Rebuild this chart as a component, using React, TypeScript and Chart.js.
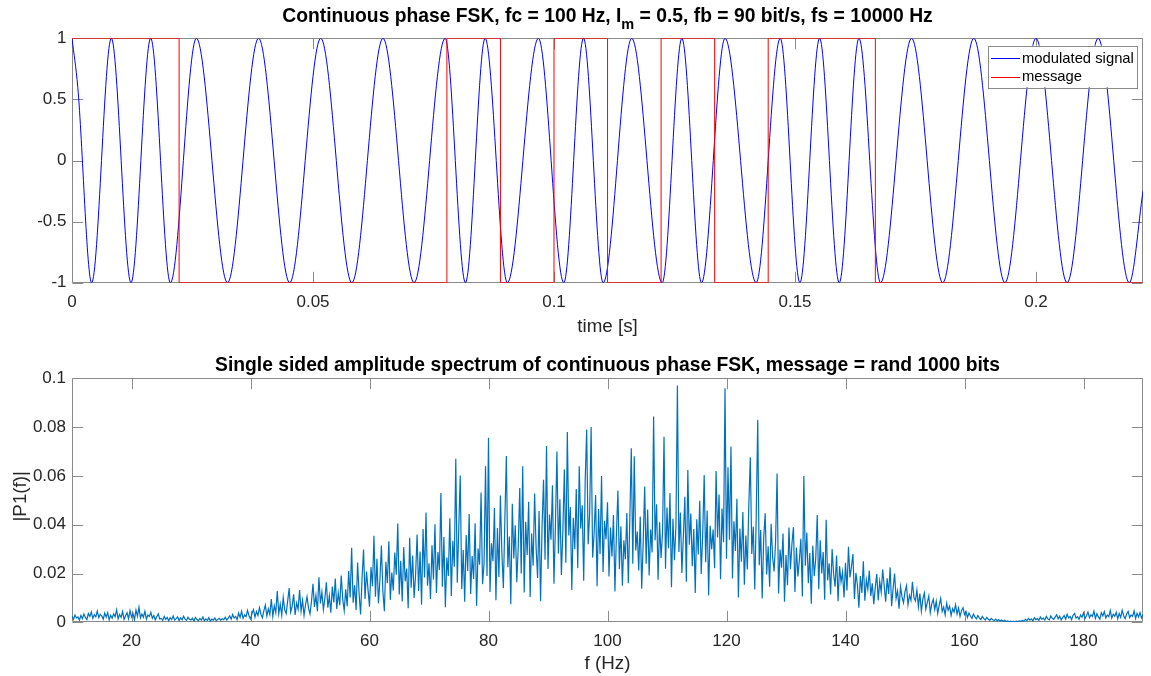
import React, { useEffect, useRef } from 'react';
import { Chart, registerables } from 'chart.js';

Chart.register(...registerables);

// ---------------- Top plot: CPFSK time signal ----------------
const TIME_MAX = 0.2222;
const TIME_TICKS = [0, 0.05, 0.1, 0.15, 0.2];
const TIME_TICK_LABELS = ['0', '0.05', '0.1', '0.15', '0.2'];
const AMP_TICKS = [-1, -0.5, 0, 0.5, 1];
const AMP_TICK_LABELS = ['-1', '-0.5', '0', '0.5', '1'];

// extrema (peaks / troughs) of the modulated signal
const SIGNAL_T = [
  0, 0.0012, 0.00408, 0.00816, 0.01224, 0.01633, 0.02041, 0.02581, 0.03226, 0.03871,
  0.04516, 0.05161, 0.05806, 0.06452, 0.07097, 0.07742, 0.08163, 0.08571, 0.09032, 0.09677,
  0.10204, 0.10612, 0.1102, 0.11613, 0.12245, 0.12653, 0.13061, 0.13548, 0.14194, 0.14694,
  0.15102, 0.1551, 0.15918, 0.16327, 0.16774, 0.17419, 0.18065, 0.1871, 0.19355, 0.2,
  0.20645, 0.2129, 0.21935, 0.2222,
];
const SIGNAL_V = [
  1, 0.6,
  -1, 1, -1, 1, -1, 1, -1, 1, -1, 1,
  -1, 1, -1, 1, -1, 1, -1, 1, -1, 1,
  -1, 1, -1, 1, -1, 1, -1, 1, -1, 1,
  -1, 1, -1, 1, -1, 1, -1, 1, -1, 1,
  -1, -0.25,
];

// message bits (+1 / -1) at each bit start, plus the end of the record
const MESSAGE_T = [
  0, 0.01111, 0.02222, 0.03333, 0.04444, 0.05556, 0.06667, 0.07778, 0.08889, 0.1,
  0.11111, 0.12222, 0.13333, 0.14444, 0.15556, 0.16667, 0.17778, 0.18889, 0.2, 0.21111, 0.2222,
];
const MESSAGE_V = [1, 1, -1, -1, -1, -1, -1, 1, -1, 1, -1, 1, -1, 1, 1, -1, -1, -1, -1, -1, -1];

// ---------------- Bottom plot: amplitude spectrum ----------------
const FREQ_MIN = 10;
const FREQ_MAX = 190;
const FREQ_TICKS = [20, 40, 60, 80, 100, 120, 140, 160, 180];
const FREQ_TICK_LABELS = ['20', '40', '60', '80', '100', '120', '140', '160', '180'];
const P1_TICKS = [0, 0.02, 0.04, 0.06, 0.08, 0.1];
const P1_TICK_LABELS = ['0', '0.02', '0.04', '0.06', '0.08', '0.1'];
const SPEC_F_START = 10;
const SPEC_F_STEP = 0.25;
const SPECTRUM = [
  0.0025,0.0012,0.0030,0.0018,0.0022,0.0009,0.0028,0.0015,0.0034,0.0020,0.0011,0.0036,0.0024,0.0042,0.0016,0.0031,0.0022,0.0046,0.0019,0.0033,
  0.0026,0.0013,0.0038,0.0021,0.0040,0.0010,0.0029,0.0017,0.0035,0.0023,0.0051,0.0014,0.0032,0.0020,0.0044,0.0012,0.0027,0.0039,0.0015,0.0048,
  0.0022,0.0036,0.0011,0.0050,0.0025,0.0062,0.0018,0.0034,0.0021,0.0045,0.0013,0.0030,0.0024,0.0041,0.0016,0.0028,0.0010,0.0023,0.0035,0.0014,
  0.0016,0.0008,0.0024,0.0012,0.0020,0.0006,0.0019,0.0011,0.0026,0.0009,0.0015,0.0022,0.0007,0.0018,0.0010,0.0025,0.0013,0.0008,0.0021,0.0012,
  0.0009,0.0017,0.0005,0.0020,0.0011,0.0007,0.0016,0.0009,0.0022,0.0006,0.0014,0.0008,0.0019,0.0005,0.0013,0.0009,0.0018,0.0006,0.0012,0.0016,
  0.0008,0.0015,0.0010,0.0021,0.0009,0.0017,0.0026,0.0013,0.0032,0.0018,0.0024,0.0011,0.0038,0.0020,0.0045,0.0016,0.0030,0.0023,0.0049,0.0027,
  0.0014,0.0036,0.0052,0.0021,0.0044,0.0028,0.0060,0.0033,0.0019,0.0048,0.0071,0.0026,0.0055,0.0032,0.0095,0.0024,0.0068,0.0040,0.0128,0.0035,
  0.0074,0.0029,0.0102,0.0051,0.0036,0.0088,0.0140,0.0042,0.0065,0.0115,0.0030,0.0079,0.0054,0.0132,0.0046,0.0090,0.0028,0.0072,0.0105,0.0058,
  0.0034,0.0086,0.0158,0.0063,0.0110,0.0045,0.0185,0.0077,0.0124,0.0052,0.0098,0.0164,0.0060,0.0108,0.0039,0.0146,0.0081,0.0179,0.0055,0.0120,
  0.0070,0.0192,0.0094,0.0048,0.0135,0.0066,0.0210,0.0102,0.0305,0.0080,0.0152,0.0050,0.0245,0.0118,0.0032,0.0180,0.0298,0.0096,0.0208,0.0134,
  0.0064,0.0226,0.0148,0.0355,0.0105,0.0260,0.0078,0.0172,0.0315,0.0126,0.0045,0.0248,0.0160,0.0332,0.0092,0.0204,0.0130,0.0286,0.0195,0.0405,
  0.0114,0.0252,0.0085,0.0308,0.0168,0.0220,0.0058,0.0346,0.0142,0.0274,0.0100,0.0196,0.0360,0.0128,0.0290,0.0072,0.0382,0.0184,0.0450,0.0150,
  0.0242,0.0095,0.0316,0.0175,0.0402,0.0120,0.0288,0.0214,0.0530,0.0146,0.0350,0.0062,0.0265,0.0190,0.0426,0.0108,0.0334,0.0228,0.0670,0.0162,
  0.0380,0.0602,0.0136,0.0296,0.0084,0.0358,0.0210,0.0444,0.0116,0.0272,0.0178,0.0406,0.0068,0.0302,0.0236,0.0532,0.0156,0.0240,0.0640,0.0190,
  0.0756,0.0124,0.0324,0.0250,0.0468,0.0090,0.0386,0.0186,0.0520,0.0284,0.0140,0.0420,0.0682,0.0226,0.0352,0.0074,0.0486,0.0262,0.0398,0.0164,
  0.0310,0.0550,0.0200,0.0640,0.0122,0.0412,0.0276,0.0494,0.0104,0.0364,0.0232,0.0528,0.0306,0.0182,0.0456,0.0086,0.0390,0.0584,0.0256,0.0722,
  0.0218,0.0442,0.0338,0.0562,0.0158,0.0400,0.0700,0.0282,0.0504,0.0194,0.0374,0.0626,0.0244,0.0780,0.0356,0.0472,0.0132,0.0428,0.0300,0.0546,
  0.0222,0.0640,0.0384,0.0480,0.0170,0.0580,0.0790,0.0320,0.0448,0.0800,0.0266,0.0362,0.0522,0.0148,0.0464,0.0280,0.0600,0.0206,0.0416,0.0340,
  0.0492,0.0188,0.0388,0.0270,0.0440,0.0126,0.0362,0.0540,0.0218,0.0394,0.0150,0.0336,0.0258,0.0448,0.0160,0.0420,0.0713,0.0240,0.0680,0.0294,
  0.0372,0.0212,0.0434,0.0138,0.0330,0.0556,0.0240,0.0462,0.0192,0.0380,0.0286,0.0843,0.0336,0.0484,0.0174,0.0410,0.0264,0.0368,0.0760,0.0220,
  0.0470,0.0304,0.0530,0.0144,0.0424,0.0254,0.0394,0.0970,0.0288,0.0450,0.0202,0.0354,0.0514,0.0166,0.0624,0.0318,0.0446,0.0230,0.0382,0.0120,
  0.0422,0.0278,0.0498,0.0198,0.0360,0.0604,0.0246,0.0458,0.0110,0.0396,0.0300,0.0380,0.0222,0.0620,0.0348,0.0524,0.0176,0.0466,0.0328,0.0959,
  0.0260,0.0635,0.0338,0.0720,0.0180,0.0414,0.0292,0.0506,0.0102,0.0384,0.0248,0.0452,0.0154,0.0356,0.0216,0.0480,0.0676,0.0280,0.0392,0.0134,
  0.0440,0.0830,0.0234,0.0378,0.0098,0.0344,0.0447,0.0196,0.0312,0.0146,0.0404,0.0268,0.0208,0.0330,0.0610,0.0118,0.0298,0.0224,0.0364,0.0084,
  0.0276,0.0152,0.0388,0.0218,0.0322,0.0390,0.0124,0.0306,0.0188,0.0256,0.0342,0.0106,0.0600,0.0232,0.0368,0.0160,0.0284,0.0076,0.0314,0.0190,
  0.0262,0.0440,0.0136,0.0336,0.0200,0.0288,0.0092,0.0420,0.0172,0.0242,0.0114,0.0300,0.0198,0.0146,0.0274,0.0086,0.0230,0.0166,0.0206,0.0102,
  0.0244,0.0130,0.0310,0.0184,0.0228,0.0280,0.0096,0.0202,0.0154,0.0060,0.0190,0.0120,0.0250,0.0088,0.0174,0.0136,0.0212,0.0108,0.0160,0.0074,
  0.0142,0.0198,0.0090,0.0168,0.0124,0.0216,0.0150,0.0084,0.0180,0.0116,0.0225,0.0066,0.0138,0.0200,0.0098,0.0128,0.0056,0.0146,0.0104,0.0080,
  0.0126,0.0150,0.0072,0.0110,0.0090,0.0166,0.0102,0.0088,0.0132,0.0064,0.0118,0.0046,0.0096,0.0120,0.0054,0.0082,0.0108,0.0040,0.0076,0.0094,
  0.0052,0.0086,0.0036,0.0070,0.0098,0.0044,0.0062,0.0030,0.0078,0.0050,0.0066,0.0028,0.0056,0.0042,0.0072,0.0034,0.0058,0.0024,0.0048,0.0060,
  0.0032,0.0044,0.0020,0.0038,0.0026,0.0016,0.0034,0.0022,0.0014,0.0028,0.0018,0.0011,0.0024,0.0015,0.0009,0.0020,0.0012,0.0008,0.0016,0.0010,
  0.0007,0.0013,0.0006,0.0011,0.0005,0.0009,0.0004,0.0008,0.0003,0.0006,0.0002,0.0005,0.0003,0.0004,0.0002,0.0005,0.0003,0.0006,0.0004,0.0008,
  0.0005,0.0012,0.0007,0.0016,0.0009,0.0014,0.0006,0.0019,0.0011,0.0015,0.0008,0.0022,0.0013,0.0017,0.0009,0.0024,0.0014,0.0010,0.0026,0.0016,
  0.0012,0.0022,0.0031,0.0014,0.0025,0.0010,0.0019,0.0028,0.0013,0.0033,0.0018,0.0024,0.0011,0.0029,0.0036,0.0017,0.0023,0.0012,0.0030,0.0021,
  0.0038,0.0015,0.0027,0.0042,0.0019,0.0031,0.0024,0.0046,0.0016,0.0035,0.0022,0.0013,0.0039,0.0026,0.0044,0.0018,0.0030,0.0023,0.0048,0.0017,
  0.0033,0.0025,0.0041,0.0014,0.0036,0.0020,0.0049,0.0027,0.0015,0.0034,0.0045,0.0019,0.0030,0.0024,0.0047,0.0016,0.0037,0.0022,0.0040,0.0018,
  0.0032,
];

// ---------------- styling ----------------
const FONT = '"Liberation Sans", Arial, Helvetica, sans-serif';
const AXIS_COLOR = '#8a8a8a';
const TEXT_COLOR = '#262626';
const TICK_LEN = 10.7;
const TICK_FONT_SIZE = 17;
const LABEL_FONT_SIZE = 18.8;
const TITLE_FONT_SIZE = 19.3;
const SUB_FONT_SIZE = 14.5;
const LEGEND_FONT_SIZE = 14.8;

type TitlePart = { text: string; sub?: boolean };
type LegendItem = { text: string; color: string };
type Deco = {
  title: TitlePart[];
  titleBaseline: number;
  xLabel: string;
  xLabelBaseline: number;
  yLabel?: string;
  yLabelX?: number;
  legend?: LegendItem[];
  xTicks: number[];
  yTicks: number[];
};

function makeDeco(d: Deco) {
  return {
    id: 'matlabDeco',
    beforeDatasetsDraw(chart: any) {
      const { ctx, chartArea: a } = chart;
      const xs = chart.scales.x;
      const ys = chart.scales.y;
      const L = Math.round(a.left) + 0.5;
      const R = Math.round(a.right) - 0.5;
      const T = Math.round(a.top) + 0.5;
      const B = Math.round(a.bottom) - 0.5;
      ctx.save();
      ctx.strokeStyle = AXIS_COLOR;
      ctx.lineWidth = 1;
      ctx.beginPath();
      ctx.rect(L, T, R - L, B - T);
      for (const v of d.xTicks) {
        const p = Math.round(xs.getPixelForValue(v)) + 0.5;
        ctx.moveTo(p, B);
        ctx.lineTo(p, B - TICK_LEN);
        ctx.moveTo(p, T);
        ctx.lineTo(p, T + TICK_LEN);
      }
      for (const v of d.yTicks) {
        const p = Math.round(ys.getPixelForValue(v)) + 0.5;
        ctx.moveTo(L, p);
        ctx.lineTo(L + TICK_LEN, p);
        ctx.moveTo(R, p);
        ctx.lineTo(R - TICK_LEN, p);
      }
      ctx.stroke();
      ctx.restore();
    },
    afterDraw(chart: any) {
      const { ctx, chartArea: a } = chart;
      const cx = (a.left + a.right) / 2;
      ctx.save();
      // title
      const mainFont = `bold ${TITLE_FONT_SIZE}px ${FONT}`;
      const subFont = `bold ${SUB_FONT_SIZE}px ${FONT}`;
      const widths = d.title.map((p) => {
        ctx.font = p.sub ? subFont : mainFont;
        return ctx.measureText(p.text).width;
      });
      const total = widths.reduce((s, w) => s + w, 0);
      let x = cx - total / 2;
      ctx.fillStyle = '#000';
      ctx.textAlign = 'left';
      ctx.textBaseline = 'alphabetic';
      d.title.forEach((p, i) => {
        ctx.font = p.sub ? subFont : mainFont;
        ctx.fillText(p.text, x, d.titleBaseline + (p.sub ? 7 : 0));
        x += widths[i];
      });
      // x label
      ctx.font = `${LABEL_FONT_SIZE}px ${FONT}`;
      ctx.fillStyle = TEXT_COLOR;
      ctx.textAlign = 'center';
      ctx.fillText(d.xLabel, cx, d.xLabelBaseline);
      // y label
      if (d.yLabel) {
        ctx.save();
        ctx.translate(d.yLabelX ?? 26, (a.top + a.bottom) / 2 - 4);
        ctx.rotate(-Math.PI / 2);
        ctx.textAlign = 'center';
        ctx.textBaseline = 'alphabetic';
        ctx.fillText(d.yLabel, 0, 0);
        ctx.restore();
      }
      // legend
      if (d.legend) {
        const w = 148.5;
        const h = 41.6;
        const right = a.right - 7;
        const left = right - w;
        const top = a.top + 7.4;
        ctx.fillStyle = '#fff';
        ctx.fillRect(left, top, w, h);
        ctx.strokeStyle = AXIS_COLOR;
        ctx.lineWidth = 1;
        ctx.strokeRect(Math.round(left) + 0.5, Math.round(top) + 0.5, Math.round(w), Math.round(h));
        ctx.font = `${LEGEND_FONT_SIZE}px ${FONT}`;
        ctx.textAlign = 'left';
        ctx.textBaseline = 'middle';
        d.legend.forEach((item, i) => {
          const y = top + 12.6 + i * 18.4;
          ctx.fillStyle = item.color;
          ctx.fillRect(Math.round(left + 3.7), Math.round(y), 29, 1);
          ctx.fillStyle = '#000';
          ctx.fillText(item.text, left + 34.5, y + 0.5);
        });
      }
      ctx.restore();
    },
  };
}

function axisOptions(
  min: number,
  max: number,
  ticks: number[],
  labels: string[],
  padding: number,
  fit: (s: any) => void
) {
  return {
    type: 'linear' as const,
    min,
    max,
    grid: { display: false, drawTicks: false },
    border: { display: false },
    ticks: {
      autoSkip: false,
      maxRotation: 0,
      padding,
      color: TEXT_COLOR,
      font: { family: FONT, size: TICK_FONT_SIZE },
      callback: (_v: any, i: number) => labels[i],
    },
    afterBuildTicks: (s: any) => {
      s.ticks = ticks.map((v) => ({ value: v }));
    },
    afterFit: fit,
  };
}

function topConfig(): any {
  return {
    type: 'line',
    data: {
      datasets: [
        {
          label: 'message',
          data: MESSAGE_T.map((t, i) => ({ x: t, y: MESSAGE_V[i] })),
          borderColor: '#ff0000',
          borderWidth: 1,
          pointRadius: 0,
          stepped: 'before',
          fill: false,
          order: 0,
        },
        {
          label: 'modulated signal',
          data: SIGNAL_T.map((t, i) => ({ x: t, y: SIGNAL_V[i] })),
          borderColor: '#0000ff',
          borderWidth: 1,
          pointRadius: 0,
          cubicInterpolationMode: 'monotone',
          fill: false,
          order: 1,
        },
      ],
    },
    options: {
      animation: false,
      responsive: false,
      maintainAspectRatio: false,
      events: [],
      layout: { padding: { top: 38.3, right: 8, left: 0, bottom: 0 } },
      plugins: { legend: { display: false }, tooltip: { enabled: false }, title: { display: false } },
      scales: {
        x: axisOptions(0, TIME_MAX, TIME_TICKS, TIME_TICK_LABELS, 9, (s) => { s.height = 55.3; }),
        y: axisOptions(-1, 1, AMP_TICKS, AMP_TICK_LABELS, 5.5, (s) => { s.width = 72; }),
      },
    },
    plugins: [
      makeDeco({
        title: [
          { text: 'Continuous phase FSK, fc = 100 Hz, I' },
          { text: 'm', sub: true },
          { text: ' = 0.5, fb = 90 bit/s, fs = 10000 Hz' },
        ],
        titleBaseline: 22.3,
        xLabel: 'time [s]',
        xLabelBaseline: 332,
        legend: [
          { text: 'modulated signal', color: '#0000ff' },
          { text: 'message', color: '#ff0000' },
        ],
        xTicks: TIME_TICKS,
        yTicks: AMP_TICKS,
      }),
    ],
  };
}

function bottomConfig(): any {
  return {
    type: 'line',
    data: {
      datasets: [
        {
          label: 'spectrum',
          data: SPECTRUM.map((v, i) => ({ x: SPEC_F_START + i * SPEC_F_STEP, y: v })),
          borderColor: '#0072bd',
          borderWidth: 1.2,
          pointRadius: 0,
          fill: false,
        },
      ],
    },
    options: {
      animation: false,
      responsive: false,
      maintainAspectRatio: false,
      events: [],
      layout: { padding: { top: 40.3, right: 8, left: 0, bottom: 0 } },
      plugins: { legend: { display: false }, tooltip: { enabled: false }, title: { display: false } },
      scales: {
        x: axisOptions(FREQ_MIN, FREQ_MAX, FREQ_TICKS, FREQ_TICK_LABELS, 8.5, (s) => { s.height = 53.7; }),
        y: axisOptions(0, 0.1, P1_TICKS, P1_TICK_LABELS, 6, (s) => { s.width = 72; }),
      },
    },
    plugins: [
      makeDeco({
        title: [{ text: 'Single sided amplitude spectrum of continuous phase FSK, message = rand 1000 bits' }],
        titleBaseline: 32.7,
        xLabel: 'f (Hz)',
        xLabelBaseline: 331,
        yLabel: '|P1(f)|',
        yLabelX: 26,
        xTicks: FREQ_TICKS,
        yTicks: P1_TICKS,
      }),
    ],
  };
}

export default function App() {
  const topRef = useRef<HTMLCanvasElement>(null);
  const bottomRef = useRef<HTMLCanvasElement>(null);

  useEffect(() => {
    const c1 = new Chart(topRef.current as HTMLCanvasElement, topConfig());
    const c2 = new Chart(bottomRef.current as HTMLCanvasElement, bottomConfig());
    return () => {
      c1.destroy();
      c2.destroy();
    };
  }, []);

  return (
    <div style={{ position: 'absolute', left: 0, top: 0, width: 1151, height: 676, background: '#fff' }}>
      <canvas ref={topRef} width={1151} height={338} style={{ display: 'block', width: 1151, height: 338 }} />
      <canvas ref={bottomRef} width={1151} height={338} style={{ display: 'block', width: 1151, height: 338 }} />
    </div>
  );
}
